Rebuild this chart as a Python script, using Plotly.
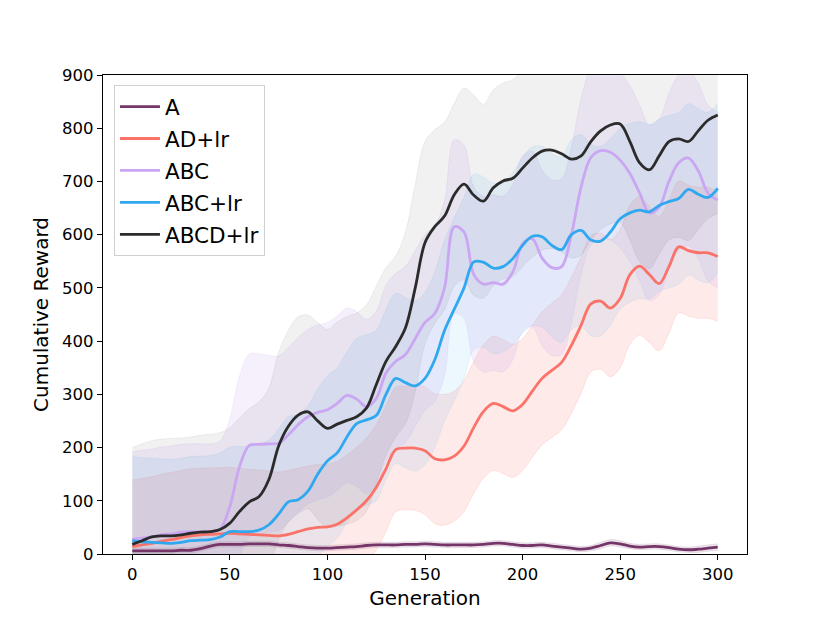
import plotly.graph_objects as go

generations = list(range(0, 301, 5))

series_names = ["A", "AD+lr", "ABC", "ABC+lr", "ABCD+lr"]

a_mean = [6, 6, 6, 6, 6, 7, 7, 10, 15, 18, 18, 18, 19, 19, 19, 17, 16, 14, 12, 11,
          11, 12, 13, 14, 16, 17, 17, 17, 18, 18, 19, 18, 17, 17, 17, 17, 18, 20, 20, 18,
          16, 16, 17, 15, 13, 11, 9, 11, 16, 21, 19, 15, 13, 14, 14, 12, 9, 8, 9, 11, 13]
a_std = [5, 5, 5, 5, 5, 5, 5, 5, 5, 5, 5, 5, 5, 5, 5, 5, 5, 5, 5, 5,
         5, 5, 5, 5, 5, 5, 5, 5, 5, 5, 5, 5, 5, 5, 5, 5, 5, 5, 5, 5,
         5, 5, 5, 5, 5, 5, 5, 5, 6, 6, 6, 5, 5, 5, 5, 5, 5, 5, 6, 6, 6]

adlr_mean = [14, 17, 20, 24, 27, 31, 34, 36, 37, 38, 39, 38, 37, 36, 35, 34, 37, 42, 47, 50,
             51, 56, 68, 83, 100, 125, 160, 196, 199, 199, 194, 179, 177, 184, 203, 238, 268, 283, 277, 269,
             281, 306, 330, 345, 360, 392, 430, 470, 475, 462, 480, 525, 541, 525, 508, 540, 577, 570, 566, 566, 559]
adlr_std = [125, 125, 125, 126, 126, 126, 126, 125, 125, 124, 124, 123, 122, 122, 121, 120, 120, 119, 118, 118,
            118, 118, 118, 118, 118, 118, 118, 117, 116, 117, 120, 122, 123, 122, 123, 124, 125, 126, 126, 125,
            124, 124, 125, 126, 127, 128, 128, 128, 128, 129, 130, 131, 130, 128, 126, 125, 124, 123, 123, 123, 122]

abc_mean = [28, 30, 32, 36, 38, 41, 42, 42, 42, 47, 89, 165, 204, 206, 207, 208, 224, 243, 258, 266,
            271, 283, 298, 291, 277, 292, 340, 362, 375, 405, 435, 452, 500, 615, 605, 525, 507, 510, 507, 530,
            583, 592, 556, 538, 540, 600, 690, 745, 758, 755, 740, 715, 678, 641, 652, 700, 735, 744, 720, 678, 665]
abc_std = [164, 165, 165, 165, 165, 165, 165, 165, 165, 165, 166, 170, 172, 170, 166, 164, 164, 164, 164, 164,
           164, 164, 164, 164, 164, 164, 165, 165, 165, 165, 165, 165, 164, 163, 163, 164, 165, 165, 165, 165,
           165, 165, 165, 165, 165, 165, 165, 165, 165, 165, 165, 165, 165, 165, 165, 165, 165, 165, 165, 165, 165]

abclr_mean = [25, 23, 22, 21, 20, 22, 25, 26, 27, 32, 42, 42, 42, 45, 55, 75, 98, 102, 118, 150,
              175, 190, 220, 245, 252, 260, 300, 330, 322, 316, 330, 365, 420, 460, 500, 549, 548, 537, 540, 555,
              580, 597, 596, 580, 572, 600, 608, 590, 588, 605, 630, 641, 646, 643, 655, 662, 668, 685, 676, 670, 687]
abclr_std = [158, 158, 158, 158, 158, 158, 158, 158, 158, 158, 159, 160, 160, 160, 160, 160, 160, 160, 160, 160,
             160, 160, 160, 160, 160, 160, 160, 160, 160, 160, 162, 165, 170, 172, 170, 165, 160, 160, 160, 162,
             165, 168, 170, 172, 175, 178, 180, 180, 178, 175, 170, 168, 166, 164, 162, 162, 161, 161, 161, 160, 160]

abcdlr_mean = [18, 25, 32, 34, 34, 36, 39, 41, 42, 46, 58, 80, 98, 108, 140, 203, 240, 261, 267, 250,
               236, 244, 251, 258, 274, 318, 362, 390, 425, 500, 585, 615, 635, 675, 695, 674, 663, 688, 701, 706,
               725, 744, 757, 759, 752, 742, 748, 775, 795, 806, 808, 775, 735, 722, 748, 775, 780, 775, 795, 815, 825]
abcdlr_std = [182, 182, 181, 182, 183, 182, 181, 182, 183, 182, 179, 176, 175, 178, 172, 176, 180, 185, 182, 185,
              186, 192, 195, 195, 194, 185, 176, 170, 180, 195, 190, 182, 176, 172, 180, 188, 182, 184, 184, 185,
              185, 186, 186, 185, 185, 186, 186, 185, 185, 186, 185, 185, 185, 186, 185, 185, 185, 186, 185, 185, 185]

x_ticks = [0, 50, 100, 150, 200, 250, 300]
y_ticks = [0, 100, 200, 300, 400, 500, 600, 700, 800, 900]

line_colors = ["#763568", "#fb7268", "#cba6f2", "#2fa8f0", "#2b2b2b"]
band_colors = ["rgba(118,53,104,0.12)", "rgba(250,114,104,0.15)", "rgba(201,165,240,0.17)",
               "rgba(47,168,240,0.09)", "rgba(43,43,43,0.065)"]

means = [a_mean, adlr_mean, abc_mean, abclr_mean, abcdlr_mean]
stds = [a_std, adlr_std, abc_std, abclr_std, abcdlr_std]

fig = go.Figure()
for i, name in enumerate(series_names):
    m = means[i]
    s = stds[i]
    lower = [mv - sv for mv, sv in zip(m, s)]
    upper = [mv + sv for mv, sv in zip(m, s)]
    fig.add_trace(go.Scatter(x=generations, y=lower, mode="lines",
                             line=dict(color=band_colors[i], width=1, shape="spline", smoothing=1.0),
                             showlegend=False, hoverinfo="skip"))
    fig.add_trace(go.Scatter(x=generations, y=upper, mode="lines", fill="tonexty",
                             fillcolor=band_colors[i],
                             line=dict(color=band_colors[i], width=1, shape="spline", smoothing=1.0),
                             showlegend=False, hoverinfo="skip"))

for i, name in enumerate(series_names):
    fig.add_trace(go.Scatter(x=generations, y=means[i], mode="lines", name=name, legendgroup=name,
                             line=dict(color=line_colors[i], width=2.8, shape="spline", smoothing=1.0)))

axis_common = dict(showline=True, linecolor="black", linewidth=1.2, mirror=True,
                   ticks="outside", ticklen=5, tickwidth=1.2, tickcolor="black",
                   showgrid=False, zeroline=False,
                   tickfont=dict(family="DejaVu Sans", size=16.5, color="black"))

fig.update_layout(
    width=830, height=623,
    margin=dict(l=95, r=91, t=67, b=77),
    paper_bgcolor="white", plot_bgcolor="white",
    font=dict(family="DejaVu Sans", color="black"),
    xaxis=dict(range=[-15, 315], tickvals=x_ticks, ticktext=[str(v) for v in x_ticks],
               title=dict(text="Generation", font=dict(size=20), standoff=8), **axis_common),
    yaxis=dict(range=[0, 900], tickvals=y_ticks, ticktext=[str(v) for v in y_ticks],
               title=dict(text="Cumulative Reward", font=dict(size=20), standoff=8), **axis_common),
    legend=dict(x=0.017, y=0.979, xanchor="left", yanchor="top",
                bgcolor="rgba(255,255,255,0.8)", bordercolor="#d0d0d0", borderwidth=1,
                font=dict(family="DejaVu Sans", size=21.5, color="black"),
                tracegroupgap=1, itemwidth=40),
)

fig.write_html("out.html")
